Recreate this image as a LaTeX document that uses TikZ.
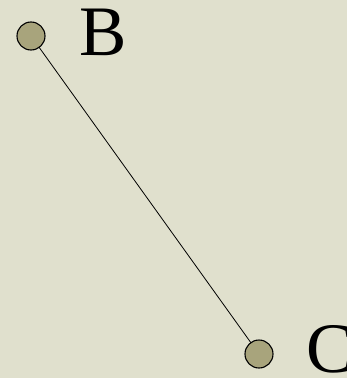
\documentclass[tikz,border=0pt]{standalone}
\usepackage{fontspec}
\setmainfont{Liberation Serif}
\usetikzlibrary{calc,backgrounds}
\definecolor{paper}{RGB}{224,224,205}
\definecolor{dotfill}{RGB}{168,164,124}

\begin{document}
\begin{tikzpicture}[x=1pt,y=-1pt,
    every node/.style={font=\fontsize{71}{71}\selectfont},
    dot/.style={circle, draw=black, line width=1.1pt, fill=dotfill, minimum size=28pt, inner sep=0pt},
    ptlabel/.style={anchor=base west, inner sep=0pt}]
\useasboundingbox (0,0) rectangle (347,378);
% ==== Points ====
\node[dot] (B) at (31,36) {};
\node[dot] (C) at (259,354) {};
\coordinate (Cend) at ($(C)!-0.035!(B)$);
\node[ptlabel] (labB) at (79,55) {B};
\node[ptlabel] (labC) at (306,372) {C};
% ==== Background and segment ====
\begin{scope}[on background layer]
\fill[paper] (0,0) rectangle (347,378);
\draw[line width=0.8pt] (B.center) -- (Cend);
\end{scope}
\end{tikzpicture}
\end{document}
